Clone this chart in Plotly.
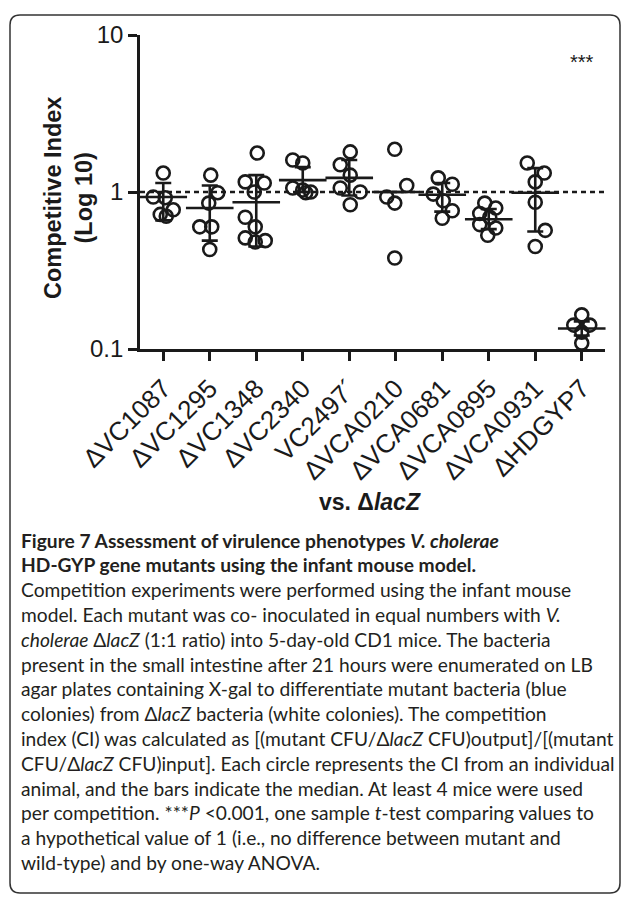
import plotly.graph_objects as go

# ---------------- data ----------------
strains = ["ΔVC1087", "ΔVC1295", "ΔVC1348", "ΔVC2340", "VC2497´",
           "ΔVCA0210", "ΔVCA0681", "ΔVCA0895", "ΔVCA0931", "ΔHDGYP7"]

ci_vc1087 = [1.32, 0.93, 0.92, 0.77, 0.72, 0.70]
ci_vc1295 = [1.28, 0.99, 0.85, 0.60, 0.60, 0.43]
ci_vc1348 = [1.77, 1.16, 1.14, 1.00, 0.69, 0.60, 0.51, 0.48, 0.49]
ci_vc2340 = [1.60, 1.53, 1.06, 1.03, 1.00, 0.99]
ci_vc2497 = [1.80, 1.49, 1.28, 1.06, 1.00, 0.83]
ci_vca0210 = [1.87, 1.10, 0.93, 0.85, 0.38]
ci_vca0681 = [1.23, 1.12, 0.97, 0.88, 0.76, 0.68]
ci_vca0895 = [0.85, 0.79, 0.73, 0.69, 0.62, 0.59, 0.53]
ci_vca0931 = [1.53, 1.32, 1.16, 0.86, 0.57, 0.45]
ci_hdgyp7 = [0.165, 0.142, 0.142, 0.128, 0.109]

median_ci = [0.93, 0.79, 0.86, 1.19, 1.23, 1.00, 0.96, 0.67, 0.99, 0.135]
upper_ci = [1.14, 1.10, 1.28, 1.44, 1.60, 1.00, 1.14, 0.78, 1.42, 0.150]
lower_ci = [0.66, 0.49, 0.45, 1.00, 0.95, 1.00, 0.75, 0.58, 0.56, 0.122]

reference_ci = 1.0
y_tick_vals = [0.1, 1, 10]
y_tick_text = ["0.1", "1", "10"]

groups = [ci_vc1087, ci_vc1295, ci_vc1348, ci_vc2340, ci_vc2497,
          ci_vca0210, ci_vca0681, ci_vca0895, ci_vca0931, ci_hdgyp7]

# horizontal scatter (jitter) of the circles, in pixels
jitter_px = [
    [0, -10, 2, 10, -3, 3],
    [1, 8, -1, -10, 2, 0],
    [1, -11, 8, -2, -11, -1, -11, -1, 9],
    [-10, 0, -10, 0, 8, 3],
    [1, -9, 1, -9, 11, 1],
    [-1, 11, -9, -1, -1],
    [-4, 10, -9, 1, 10, 0],
    [-4, 7, -9, 1, -9, 7, -1],
    [-8, 9, 0, 0, 10, 0],
    [0, -8, 8, 0, 0],
]

# ---------------- layout geometry ----------------
# the html body adds an 8px margin on every side; keep the figure inside the window
PAGE_OFF = 8
W, H = 629 - 2 * PAGE_OFF, 908 - 2 * PAGE_OFF
PLOT_L, PLOT_R, PLOT_T, PLOT_B = 140, 605, 35, 349       # in window pixels
ML, MT = PLOT_L - PAGE_OFF, PLOT_T - PAGE_OFF
MR, MB = W - (PLOT_R - PAGE_OFF), H - (PLOT_B - PAGE_OFF)
PW, PH = PLOT_R - PLOT_L, PLOT_B - PLOT_T
CAT_PX = PW / len(strains)

def px_x(px):
    return (px - PLOT_L) / PW

def px_y(py):
    return (PLOT_B - py) / PH

INK = "#1a1a1a"
FONT = "Liberation Sans"

fig = go.Figure()

# reference line at CI = 1
fig.add_trace(go.Scatter(
    x=[-0.5, len(strains) - 0.5], y=[reference_ci, reference_ci], mode="lines",
    line=dict(color=INK, width=2.5, dash="5px,4px"), hoverinfo="skip", showlegend=False))

# individual animals
for i, vals in enumerate(groups):
    xs = [i + j / CAT_PX for j in jitter_px[i]]
    fig.add_trace(go.Scatter(
        x=xs, y=vals, mode="markers", cliponaxis=False, showlegend=False,
        marker=dict(symbol="circle-open", size=13, color=INK,
                    line=dict(width=2.6, color=INK))))

# median + range whiskers
xi = list(range(len(strains)))
fig.add_trace(go.Scatter(
    x=xi, y=median_ci, mode="markers", cliponaxis=False, showlegend=False,
    marker=dict(symbol="line-ew", size=34, color=INK, line=dict(width=2.6, color=INK)),
    error_y=dict(type="data", symmetric=False,
                 array=[u - m for u, m in zip(upper_ci, median_ci)],
                 arrayminus=[m - l for m, l in zip(median_ci, lower_ci)],
                 color=INK, thickness=2.6, width=8)))

fig.update_xaxes(
    range=[-0.5, len(strains) - 0.5], tickvals=xi, ticktext=strains, tickangle=-45,
    showline=True, linecolor=INK, linewidth=2.6, ticks="outside", ticklen=9,
    tickwidth=2.6, tickcolor=INK, showgrid=False, zeroline=False, automargin=False,
    ticklabelstandoff=2,
    tickfont=dict(family=FONT, size=26, color=INK))
fig.update_yaxes(
    type="log", range=[-1, 1], tickvals=y_tick_vals, ticktext=y_tick_text,
    showline=True, linecolor=INK, linewidth=2.6, ticks="outside", ticklen=9,
    tickwidth=2.6, tickcolor=INK, showgrid=False, zeroline=False, automargin=False,
    tickfont=dict(family=FONT, size=24, color=INK))

ann = []
# significance
ann.append(dict(x=9, xref="x", y=px_y(62), yref="paper", text="***", showarrow=False,
                font=dict(family=FONT, size=20, color=INK), xanchor="center", yanchor="middle"))
# y title
ann.append(dict(x=px_x(68), y=px_y(198), xref="paper", yref="paper", textangle=-90,
                text="<b>Competitive Index<br>(Log 10)</b>", showarrow=False,
                font=dict(family=FONT, size=23.5, color=INK), xanchor="center", yanchor="middle"))
# x title
ann.append(dict(x=px_x(370), y=px_y(502), xref="paper", yref="paper",
                text="<b>vs. Δ<i>lacZ</i></b>", showarrow=False,
                font=dict(family=FONT, size=23, color=INK), xanchor="center", yanchor="middle"))

caption = [
    "<b>Figure 7 Assessment of virulence phenotypes <i>V. cholerae</i></b>",
    "<b>HD-GYP gene mutants using the infant mouse model.</b>",
    "Competition experiments were performed using the infant mouse",
    "model. Each mutant was co- inoculated in equal numbers with <i>V.</i>",
    "<i>cholerae</i> Δ<i>lacZ</i> (1:1 ratio) into 5-day-old CD1 mice. The bacteria",
    "present in the small intestine after 21 hours were enumerated on LB",
    "agar plates containing X-gal to differentiate mutant bacteria (blue",
    "colonies) from Δ<i>lacZ</i> bacteria (white colonies). The competition",
    "index (CI) was calculated as [(mutant CFU/Δ<i>lacZ</i> CFU)output]/[(mutant",
    "CFU/Δ<i>lacZ</i> CFU)input]. Each circle represents the CI from an individual",
    "animal, and the bars indicate the median. At least 4 mice were used",
    "per competition. ***<i>P</i> &lt;0.001, one sample <i>t</i>-test comparing values to",
    "a hypothetical value of 1 (i.e., no difference between mutant and",
    "wild-type) and by one-way ANOVA.",
]
for k, line in enumerate(caption):
    ann.append(dict(x=px_x(19), y=px_y(540 + 24.8 * k), xref="paper", yref="paper",
                    text=line, showarrow=False, xanchor="left", yanchor="middle",
                    font=dict(family="Lato", size=19.2, color="#231f20")))

# rounded frame around the figure (window pixels)
L, T, R, B, r = 10, 15, 620, 893, 10
path = (f"M {px_x(L + r)} {px_y(T)} L {px_x(R - r)} {px_y(T)} "
        f"Q {px_x(R)} {px_y(T)} {px_x(R)} {px_y(T + r)} "
        f"L {px_x(R)} {px_y(B - r)} Q {px_x(R)} {px_y(B)} {px_x(R - r)} {px_y(B)} "
        f"L {px_x(L + r)} {px_y(B)} Q {px_x(L)} {px_y(B)} {px_x(L)} {px_y(B - r)} "
        f"L {px_x(L)} {px_y(T + r)} Q {px_x(L)} {px_y(T)} {px_x(L + r)} {px_y(T)} Z")

fig.update_layout(
    width=W, height=H, template="none",
    margin=dict(l=ML, r=MR, t=MT, b=MB, pad=0),
    paper_bgcolor="white", plot_bgcolor="white", showlegend=False,
    annotations=ann,
    shapes=[dict(type="path", path=path, xref="paper", yref="paper",
                 line=dict(color="#333333", width=1.5), layer="below")],
)

fig.write_html("out.html")
